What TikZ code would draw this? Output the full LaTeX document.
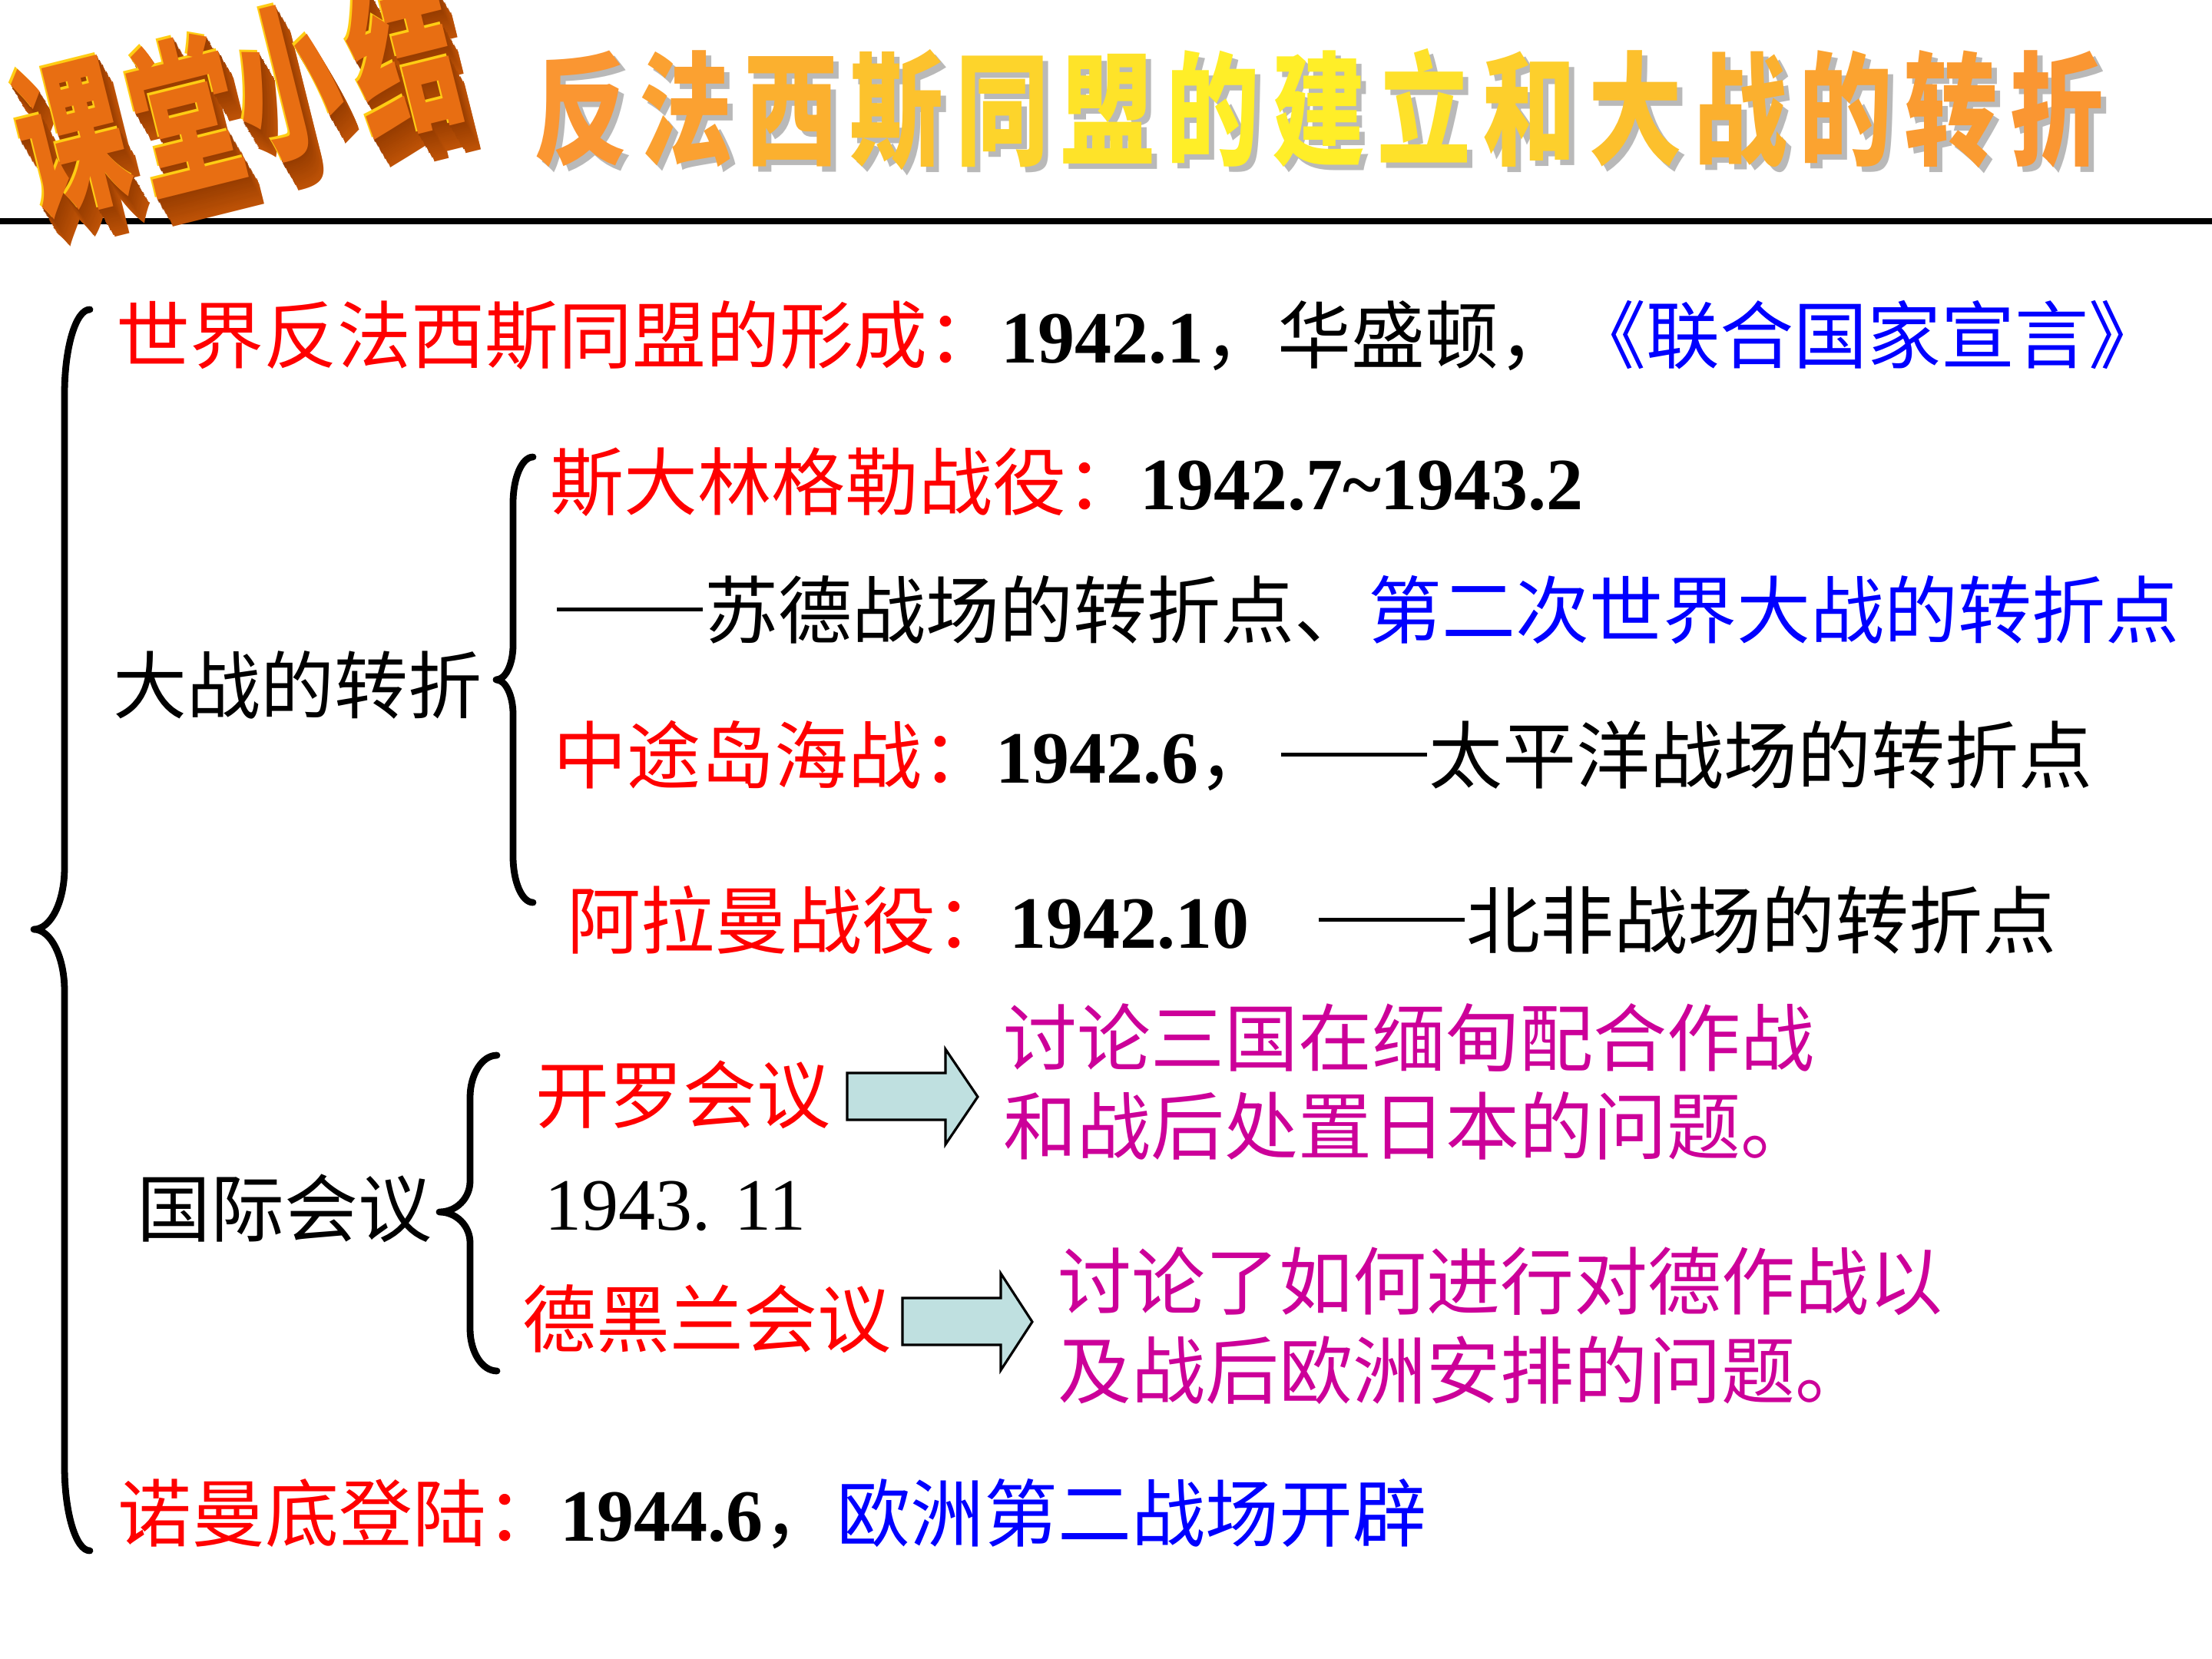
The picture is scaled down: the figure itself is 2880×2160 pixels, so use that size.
\documentclass[tikz,border=0pt]{standalone}
\usepackage{fontspec}
\setmainfont{Noto Sans CJK SC}
\newfontfamily\numfont{Liberation Serif}
\definecolor{rd}{RGB}{255,0,0}
\definecolor{bl}{RGB}{0,0,255}
\definecolor{pu}{RGB}{204,0,153}
\definecolor{afill}{RGB}{191,224,224}
\definecolor{tOr}{RGB}{250,150,50}
\definecolor{tYe}{RGB}{255,238,40}
\definecolor{waFront}{RGB}{232,110,18}
\definecolor{waDark}{RGB}{200,88,8}
\definecolor{waDeep}{RGB}{150,60,0}
\definecolor{waHi}{RGB}{255,205,20}
\newcommand\bnum[1]{{\numfont\bfseries #1}}
\newcommand\dashes{\rule[0.35em]{1.98em}{0.06em}\hspace{0.02em}}
\newcommand\mybracepath[8]{%
  \draw[bracestyle] (#1,#4) .. controls ({#1-0.552*(#1-#2)},#4) and (#2,{#4+0.448*#7}) .. (#2,{#4+#7})
  -- (#2,{#5-#8}) .. controls (#2,{#5-0.448*#8}) and ({#3+0.552*(#2-#3)},#5) .. (#3,#5)
  .. controls ({#3+0.552*(#2-#3)},#5) and (#2,{#5+0.448*#8}) .. (#2,{#5+#8})
  -- (#2,{#6-#7}) .. controls (#2,{#6-0.448*#7}) and ({#1-0.552*(#1-#2)},#6) .. (#1,#6);}
\tikzset{
  txt/.style={anchor=base west, inner sep=0pt, outer sep=0pt, font=\fontsize{27.3}{32}\selectfont},
  ttl/.style={anchor=base west, inner sep=0pt, outer sep=0pt, font=\fontsize{45.5}{50}\selectfont\bfseries, xscale=0.76},
  wa/.style={inner sep=0pt, outer sep=0pt, font=\fontsize{41}{45}\selectfont\bfseries, rotate=14, xscale=0.95, yscale=1.5},
  bracestyle/.style={line width=2.5pt, line cap=round, line join=round},
  blockarrow/.style={fill=afill, draw=black, line width=0.9pt, line join=miter}
}
\begin{document}
\begin{tikzpicture}[x=0.01cm,y=-0.01cm]
\useasboundingbox (0,0) rectangle (2880,2160);
\fill[white] (0,0) rectangle (2880,2160);
% rule under title
\draw[line width=2.3pt] (0,288) -- (2880,288);
% WordArt 课堂小结 (3D look)
\foreach \ch/\cx/\cy [count=\j] in {课/92/178,堂/240/148,小/372/108,结/525/74} {
  \foreach \k in {16,15,...,1} {
    \node[wa, text=waDeep!\fpeval{100-5*\k}!waDark] (wx\j-\k) at ({\cx+1.3*\k},{\cy+2.2*\k}) {\ch};
  }
  \node[wa, text=waHi] (whi\j) at ({\cx-3},{\cy-3}) {\ch};
  \node[wa, text=waFront] (wf\j) at (\cx,\cy) {\ch};
}
% title
\foreach \ch/\p [count=\i from 0] in {反/0,法/12,西/30,斯/50,同/70,盟/88,的/100,建/100,立/85,和/65,大/48,战/30,的/15,转/5,折/0} {
  \node[ttl, text=gray!55] (tsh\i) at ({695+137.3*\i+7},209) {\ch};
}
\foreach \ch/\p [count=\i from 0] in {反/0,法/12,西/30,斯/50,同/70,盟/88,的/100,建/100,立/85,和/65,大/48,战/30,的/15,转/5,折/0} {
  \node[ttl, text=tYe!\p!tOr] (tt\i) at ({695+137.3*\i},202) {\ch};
}
% braces
\mybracepath{117}{84}{44}{403}{1210}{2019}{110}{80}
\mybracepath{694}{668}{646}{595}{885}{1175}{60}{45}
\mybracepath{647}{612}{572}{1374}{1578}{1785}{55}{40}
% lines of text
\node[txt] (l1) at (151,472) {\textcolor{rd}{世界反法西斯同盟的形成：}\bnum{1942.1}，华盛顿，\textcolor{bl}{《联合国家宣言》}};
\node[txt] (zz) at (147,928) {大战的转折};
\node[txt] (sdl) at (716,663) {\textcolor{rd}{斯大林格勒战役：}\bnum{1942.7\textasciitilde 1943.2}};
\node[txt] (sdz) at (725,830) {\dashes 苏德战场的转折点、\textcolor{bl}{第二次世界大战的转折点}};
\node[txt] (zt) at (720,1019) {\textcolor{rd}{中途岛海战：}\bnum{1942.6}，};
\node[txt] (zt2) at (1668,1019) {\dashes 太平洋战场的转折点};
\node[txt] (alm) at (738,1234) {\textcolor{rd}{阿拉曼战役：}\bnum{1942.10}};
\node[txt] (alm2) at (1717,1234) {\dashes 北非战场的转折点};
\node[txt] (gj) at (178,1609) {国际会议};
\node[txt, text=rd] (kl) at (697,1461) {开罗会议};
\node[txt, font=\fontsize{27.3}{32}\selectfont\numfont] (d1943) at (709,1601) {1943. 11};
\node[txt, text=rd] (dhl) at (680,1753) {德黑兰会议};
\node[txt, text=pu] (k1) at (1306,1387) {讨论三国在缅甸配合作战};
\node[txt, text=pu] (k2) at (1306,1502) {和战后处置日本的问题。};
\node[txt, text=pu] (d1) at (1377,1704) {讨论了如何进行对德作战以};
\node[txt, text=pu] (d2) at (1377,1820) {及战后欧洲安排的问题。};
\node[txt] (nmd) at (153,2006) {\textcolor{rd}{诺曼底登陆：}\bnum{1944.6}，\textcolor{bl}{欧洲第二战场开辟}};
% block arrows
\draw[blockarrow] (1103,1397) -- (1231,1397) -- (1231,1366) -- (1273,1428) -- (1231,1490) -- (1231,1458) -- (1103,1458) -- cycle;
\draw[blockarrow] (1175,1690) -- (1303,1690) -- (1303,1658) -- (1344,1721) -- (1303,1784) -- (1303,1751) -- (1175,1751) -- cycle;
\end{tikzpicture}
\end{document}
